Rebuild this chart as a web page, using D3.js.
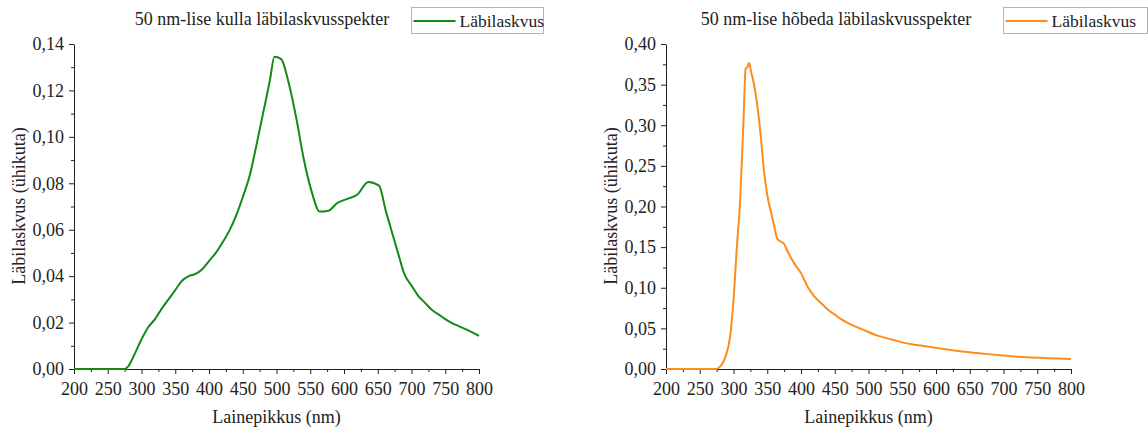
<!DOCTYPE html>
<html>
<head>
<meta charset="utf-8">
<script src="https://cdn.jsdelivr.net/npm/d3@7"></script>
<style>
  body { margin: 0; background: #fff; }
  svg text { font-family: "Liberation Serif", "Times New Roman", Times, serif !important; fill: #222; }
</style>
</head>
<body>
<svg id="chart" width="1148" height="430"></svg>
<script>
/* data */
const goldNm = [200, 250, 275, 280, 290, 300, 310, 320, 330, 340, 350, 360, 370, 380, 390, 400, 410, 420, 430, 440,
  450, 460, 470, 480, 490, 497, 507, 517, 530, 540, 552, 564, 577, 590, 605, 620, 636, 652, 662, 670,
  680, 690, 700, 710, 720, 730, 740, 750, 760, 770, 780, 790, 800];
const goldT = [0, 0, 0, 0.001, 0.0065, 0.0128, 0.018, 0.0215, 0.026, 0.030, 0.034, 0.038, 0.040, 0.041, 0.043, 0.0465, 0.050, 0.0545, 0.0595, 0.066,
  0.074, 0.083, 0.096, 0.110, 0.124, 0.1345, 0.1335, 0.1245, 0.107, 0.091, 0.0765, 0.0678, 0.0682, 0.0715, 0.0733, 0.0752, 0.0806, 0.0790, 0.068, 0.060,
  0.050, 0.0405, 0.036, 0.0315, 0.0285, 0.0255, 0.0235, 0.0215, 0.0198, 0.0185, 0.0172, 0.0158, 0.0143];

const silverNm = [200, 250, 275, 280, 285, 290, 295, 300, 305, 310, 315, 318, 321, 323, 326, 330, 335, 340, 345, 350,
  355, 360, 365, 370, 375, 380, 390, 400, 410, 420, 430, 440, 450, 460, 470, 480, 490, 500, 510, 520,
  540, 560, 580, 600, 620, 640, 660, 680, 700, 720, 740, 760, 780, 800];
const silverT = [0, 0, 0, 0.003, 0.009, 0.02, 0.04, 0.085, 0.15, 0.21, 0.31, 0.37, 0.372, 0.377, 0.366, 0.352, 0.326, 0.29, 0.245, 0.214,
  0.195, 0.177, 0.16, 0.157, 0.154, 0.145, 0.130, 0.118, 0.101, 0.089, 0.081, 0.073, 0.067, 0.061, 0.0565, 0.0525, 0.049, 0.0455, 0.042, 0.0395,
  0.035, 0.031, 0.0285, 0.026, 0.0237, 0.0215, 0.0197, 0.018, 0.0165, 0.0152, 0.0142, 0.0135, 0.0128, 0.0122];

const xTicks = [200, 250, 300, 350, 400, 450, 500, 550, 600, 650, 700, 750, 800];
const goldYTicks = [0, 0.02, 0.04, 0.06, 0.08, 0.10, 0.12, 0.14];
const silverYTicks = [0, 0.05, 0.10, 0.15, 0.20, 0.25, 0.30, 0.35, 0.40];

const svg = d3.select('#chart');
const fmt = v => d3.format('.2f')(v).replace('.', ',');
const serif = '"Liberation Serif", "Times New Roman", Times, serif';

function drawPanel(p) {
  const x = d3.scaleLinear().domain([200, 800]).range([p.left, p.right]);
  const y = d3.scaleLinear().domain([0, p.yMax]).range([369, 44]);

  // minor ticks
  const xMinor = d3.range(225, 800, 50);
  const yStep = p.yTicks[1] - p.yTicks[0];
  const yMinor = p.yTicks.slice(0, -1).map(v => v + yStep / 2);

  svg.append('g')
    .attr('transform', 'translate(0,369)')
    .call(d3.axisBottom(x).tickValues(xMinor).tickSize(3).tickSizeOuter(0).tickFormat(''))
    .call(g => g.select('.domain').remove());
  svg.append('g')
    .attr('transform', `translate(${p.left},0)`)
    .call(d3.axisLeft(y).tickValues(yMinor).tickSize(3).tickSizeOuter(0).tickFormat(''))
    .call(g => g.select('.domain').remove());

  const xAxis = svg.append('g')
    .attr('transform', 'translate(0,369)')
    .call(d3.axisBottom(x).tickValues(xTicks).tickSize(5).tickSizeOuter(0).tickPadding(8));
  const yAxis = svg.append('g')
    .attr('transform', `translate(${p.left},0)`)
    .call(d3.axisLeft(y).tickValues(p.yTicks).tickSize(5).tickSizeOuter(0).tickPadding(5).tickFormat(fmt));

  [xAxis, yAxis].forEach(a => {
    a.attr('font-family', serif);
    a.selectAll('text').style('font-size', '18px').attr('fill', '#222');
    a.selectAll('line, path').attr('stroke', '#222');
  });
  svg.selectAll('.tick line').attr('stroke', '#222');

  const line = d3.line()
    .curve(d3.curveMonotoneX)
    .x((d, i) => x(p.nm[i]))
    .y(d => y(d));

  svg.append('path')
    .datum(p.vals)
    .attr('fill', 'none')
    .attr('stroke', p.color)
    .attr('stroke-width', 2)
    .attr('stroke-linejoin', 'round')
    .attr('d', line);

  // title
  svg.append('text')
    .attr('x', p.titleX).attr('y', 25)
    .attr('text-anchor', 'middle')
    .style('font-size', '18px')
    .text(p.title);

  // axis labels
  svg.append('text')
    .attr('x', (p.left + p.right) / 2).attr('y', 423)
    .attr('text-anchor', 'middle')
    .style('font-size', '18px')
    .text('Lainepikkus (nm)');
  svg.append('text')
    .attr('transform', `translate(${p.yLabelX},206) rotate(-90)`)
    .attr('text-anchor', 'middle')
    .style('font-size', '18px')
    .text('Läbilaskvus (ühikuta)');

  // legend
  const lg = svg.append('g');
  lg.append('rect')
    .attr('x', p.legX).attr('y', 7.5)
    .attr('width', p.legW).attr('height', 26)
    .attr('fill', '#fff').attr('stroke', '#b4b4b4');
  lg.append('line')
    .attr('x1', p.legX + 2).attr('x2', p.legX + 44)
    .attr('y1', 21).attr('y2', 21)
    .attr('stroke', p.color).attr('stroke-width', 2);
  lg.append('text')
    .attr('x', p.legX + 48).attr('y', 27)
    .style('font-size', '17.5px')
    .text('Läbilaskvus');
}

drawPanel({
  left: 74, right: 479, yMax: 0.14, yTicks: goldYTicks,
  nm: goldNm, vals: goldT, color: '#138a13',
  title: '50 nm-lise kulla läbilaskvusspekter', titleX: 262,
  yLabelX: 25, legX: 411.5, legW: 132
});

drawPanel({
  left: 666, right: 1071, yMax: 0.40, yTicks: silverYTicks,
  nm: silverNm, vals: silverT, color: '#ff8c1a',
  title: '50 nm-lise hõbeda läbilaskvusspekter', titleX: 836,
  yLabelX: 617, legX: 1003.5, legW: 144
});
</script>
</body>
</html>
